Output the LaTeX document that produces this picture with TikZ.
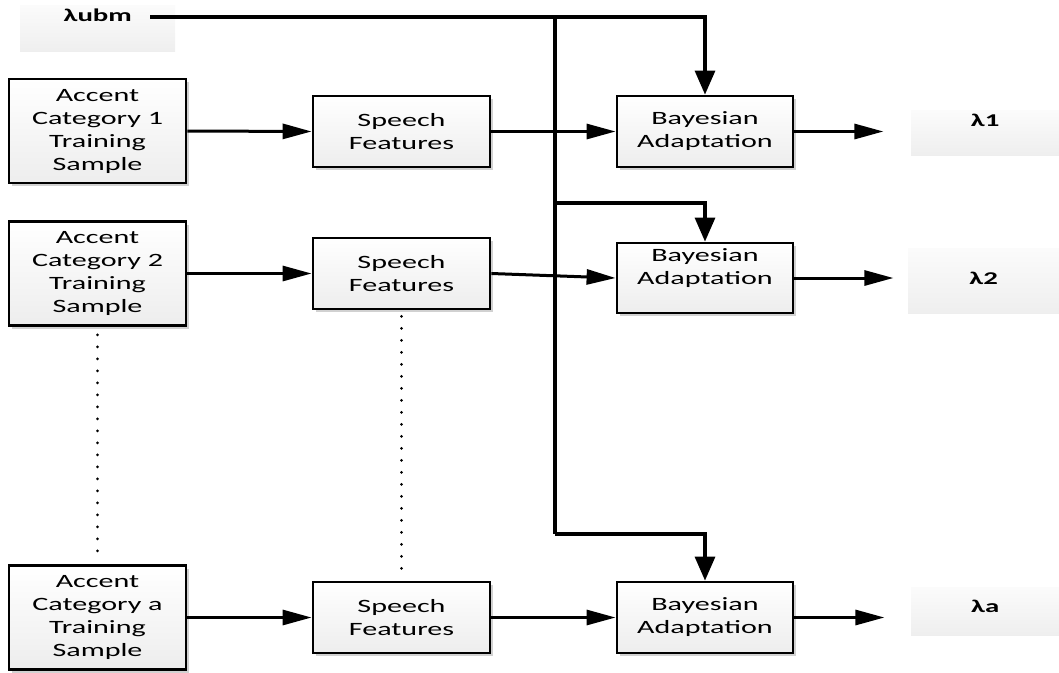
\documentclass[tikz,border=0pt]{standalone}
\usepackage{fontspec}
\setmainfont{Carlito}[FakeStretch=1.6]
\usetikzlibrary{arrows.meta,shadows}

\tikzset{
  block/.style={draw=black, line width=2.8pt, top color=white, bottom color=gray!14,
    minimum width=177, minimum height=71, inner sep=0pt, align=center,
    font=\fontsize{18.8}{23}\selectfont,
    drop shadow={shadow xshift=3pt, shadow yshift=-3pt, fill=black, opacity=0.18}},
  tall/.style={minimum height=104},
  lambdabox/.style={top color=gray!3, bottom color=gray!13, inner sep=0pt,
    anchor=north west, font=\fontsize{18}{22}\selectfont\bfseries},
  conn/.style={line width=3pt, -{Triangle[length=29pt,width=15pt]}},
  feed/.style={line width=3.2pt, -{Triangle[length=24pt,width=20pt]}},
  bus/.style={line width=3.6pt},
  dots/.style={line width=3pt, line cap=round, dash pattern=on 0pt off 12pt}
}

\begin{document}
\begin{tikzpicture}[x=1pt, y=-1pt]
\useasboundingbox (0,0) rectangle (1059,672);

% model labels
\node[lambdabox, minimum width=155, minimum height=46, text height=16, text depth=30] (ubm) at (20,5) {λubm};
\node[lambdabox, minimum width=148, minimum height=45, text height=16, text depth=29] (l1) at (911,110) {λ1};
\node[lambdabox, minimum width=151, minimum height=65, text height=36, text depth=29] (l2) at (908,248) {λ2};
\node[lambdabox, minimum width=148, minimum height=48, text height=25, text depth=23] (la) at (911,587) {λa};

% training samples
\node[block, tall] (acc1) at (97.5,131) {Accent\\Category 1\\Training\\Sample};
\node[block, tall] (acc2) at (97.5,273.5) {Accent\\Category 2\\Training\\Sample};
\node[block, tall] (acca) at (97.5,617.5) {Accent\\Category a\\Training\\Sample};

% feature extraction
\node[block] (sp1) at (401.5,131.5) {Speech\\Features};
\node[block] (sp2) at (401.5,273.5) {Speech\\Features};
\node[block] (spa) at (401.5,617.5) {Speech\\Features};

% adaptation
\node[block, minimum width=176] (bay1) at (705,131.5) {Bayesian\\Adaptation};
\node[block, minimum width=176, minimum height=70] (bay2) at (705,278) {Bayesian\\Adaptation\\\mbox{}};
\node[block, minimum width=176] (baya) at (705,617.5) {Bayesian\\Adaptation};

% UBM distribution bus
\coordinate (ubmout) at (150,17);
\coordinate (bustop) at (555,17);
\coordinate (busmid) at (555,203);
\coordinate (busbot) at (555,534);

\draw[bus] (bustop) -- (busbot);
\draw[feed] (ubmout) -| (bay1.north);
\draw[feed] (busmid) -| (bay2.north);
\draw[feed] (busbot) -| (baya.north);

% processing chains
\draw[conn] (acc1.east) -- (sp1.west);
\draw[conn] (acc2.east) -- (sp2.west);
\draw[conn] (acca.east) -- (spa.west);
\draw[conn] (sp1.east) -- (bay1.west);
\draw[conn] (sp2.east) -- (bay2.west);
\draw[conn] (spa.east) -- (baya.west);
\draw[conn] (bay1.east) -- ++(89,0);
\draw[conn] (bay2.east) -- ++(99,0);
\draw[conn] (baya.east) -- ++(90,0);

% omitted categories
\draw[dots] ([yshift=-8pt]acc2.south) -- ([yshift=2pt]acca.north);
\draw[dots] ([yshift=-6pt]sp2.south) -- ([yshift=8pt]spa.north);
\end{tikzpicture}
\end{document}
